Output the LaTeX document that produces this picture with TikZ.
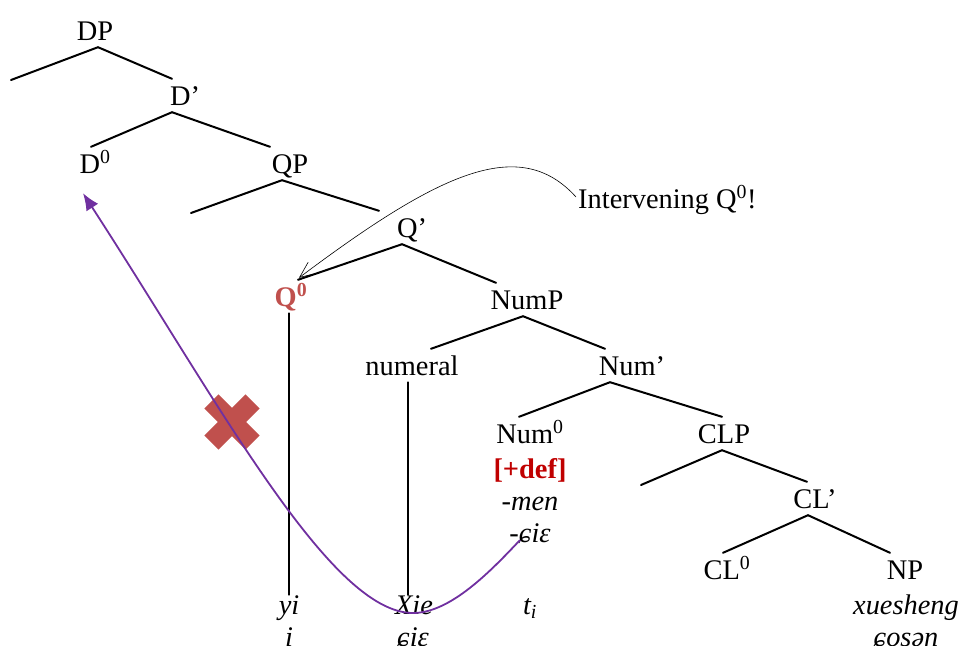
\documentclass[tikz,border=0pt]{standalone}
\usepackage{fontspec}
\setmainfont{Liberation Serif}
\usetikzlibrary{arrows.meta,calc}
\definecolor{qred}{HTML}{C0504D}
\definecolor{defred}{HTML}{C00000}
\definecolor{mvpurple}{HTML}{7030A0}
\begin{document}
\begin{tikzpicture}[x=1pt,y=-1pt,
  font=\fontsize{28.4}{34}\selectfont,
  cat/.style={anchor=base, inner xsep=0pt, inner ysep=7pt, text height=19pt, text depth=0pt},
  word/.style={anchor=base, inner sep=0pt, text height=19pt, text depth=0pt, font=\fontsize{28.4}{34}\selectfont\itshape},
  branch/.style={line width=2pt, line cap=round},
  movearrow/.style={mvpurple, line width=1.8pt, -{Latex[length=17pt,width=14pt]}},
  notearrow/.style={black, line width=0.6pt, -{Straight Barb[length=16pt,width=14pt,line width=0.6pt]}}]
\useasboundingbox (0,0) rectangle (963,645);

% category labels
\node[cat] (DP) at (95,40) {DP};
\node[cat] (Dbar) at (185,105) {D’};
\node[cat] (D0) at (95,173) {D\textsuperscript{0}};
\node[cat] (QP) at (290,173) {QP};
\node[cat] (Qbar) at (412,237) {Q’};
\node[cat, text=qred, font=\fontsize{28.4}{34}\selectfont\bfseries] (Q0) at (291,306) {Q\textsuperscript{0}};
\node[cat] (NumP) at (527,309) {NumP};
\node[cat] (numeral) at (412,375) {numeral};
\node[cat] (Numbar) at (632,375) {Num’};
\node[cat] (Num0) at (530,443) {Num\textsuperscript{0}};
\node[cat] (CLP) at (724,443) {CLP};
\node[cat] (CLbar) at (815,508) {CL’};
\node[cat] (CL0) at (727,579) {CL\textsuperscript{0}};
\node[cat] (NP) at (905,579) {NP};

% feature / morphemes under Num0
\node[anchor=base, inner sep=0pt, text=defred, font=\fontsize{28.4}{34}\selectfont\bfseries] (def) at (530,478) {[+def]};
\node[word] (men) at (530,510) {-men};
\node[word] (xie2) at (530,542) {-ɕiɛ};

% words
\node[word] (yi) at (289,614) {yi};
\node[word] (yiipa) at (289,646) {i};
\node[word] (Xie) at (414,614) {Xie};
\node[word] (Xieipa) at (413,646) {ɕiɛ};
\node[word] (ti) at (530,614) {t\textsubscript{i}};
\node[word] (xuesheng) at (906,614) {xuesheng};
\node[word] (xueipa) at (906,646) {ɕosən};

\node[anchor=base west, inner sep=0pt] (interv) at (578,208) {Intervening Q\textsuperscript{0}!};

% empty specifier ends
\coordinate (specD) at (11,80);
\coordinate (specQ) at (191,213);
\coordinate (specCL) at (641,485);

% branches
\draw[branch] ([xshift=3pt]DP.south) -- (specD);
\draw[branch] ([xshift=3pt]DP.south) -- ([xshift=-13pt]Dbar.north);
\draw[branch] ([xshift=-13pt]Dbar.south) -- ([xshift=-4pt]D0.north);
\draw[branch] ([xshift=-13pt]Dbar.south) -- ([xshift=-20pt]QP.north);
\draw[branch] ([xshift=-8pt]QP.south) -- (specQ);
\draw[branch] ([xshift=-8pt]QP.south) -- ([xshift=-33pt]Qbar.north);
\draw[branch] ([xshift=-10pt]Qbar.south) -- ([xshift=7pt]Q0.north);
\draw[branch] ([xshift=-10pt]Qbar.south) -- ([xshift=-31pt]NumP.north);
\draw[branch] ([xshift=-4pt]NumP.south) -- ([xshift=19pt]numeral.north);
\draw[branch] ([xshift=-4pt]NumP.south) -- ([xshift=-27pt]Numbar.north);
\draw[branch] ([xshift=-22pt]Numbar.south) -- ([xshift=-11pt]Num0.north);
\draw[branch] ([xshift=-22pt]Numbar.south) -- ([xshift=-2pt]CLP.north);
\draw[branch] ([xshift=-2pt]CLP.south) -- (specCL);
\draw[branch] ([xshift=-2pt]CLP.south) -- ([xshift=-8pt]CLbar.north);
\draw[branch] ([xshift=-7pt]CLbar.south) -- ([xshift=-4pt]CL0.north);
\draw[branch] ([xshift=-7pt]CLbar.south) -- ([xshift=-15pt]NP.north);
\draw[branch, line width=1.8pt] ([xshift=-2pt]Q0.south) -- (yi.north);
\draw[branch, line width=1.8pt] ([xshift=-4pt]numeral.south) -- ([xshift=-6pt]Xie.north);

% blocked movement cross
\begin{scope}[shift={(232,422)}, rotate=45]
  \fill[qred] (-29,-10) rectangle (29,10);
  \fill[qred] (-10,-29) rectangle (10,29);
\end{scope}

% movement arrow
\draw[movearrow] ($(xie2.base)+(-10,-2)$) .. controls (490,572) and (450,613) .. (413,613)
  .. controls (330,613) and (219,403) .. ($(D0.south)+(-12,13)$);

% note arrow
\draw[notearrow] ($(interv.base west)+(-2,-11)$) .. controls (520,135) and (440,172) .. ($(Q0.north)+(8,-2)$);
\end{tikzpicture}
\end{document}
